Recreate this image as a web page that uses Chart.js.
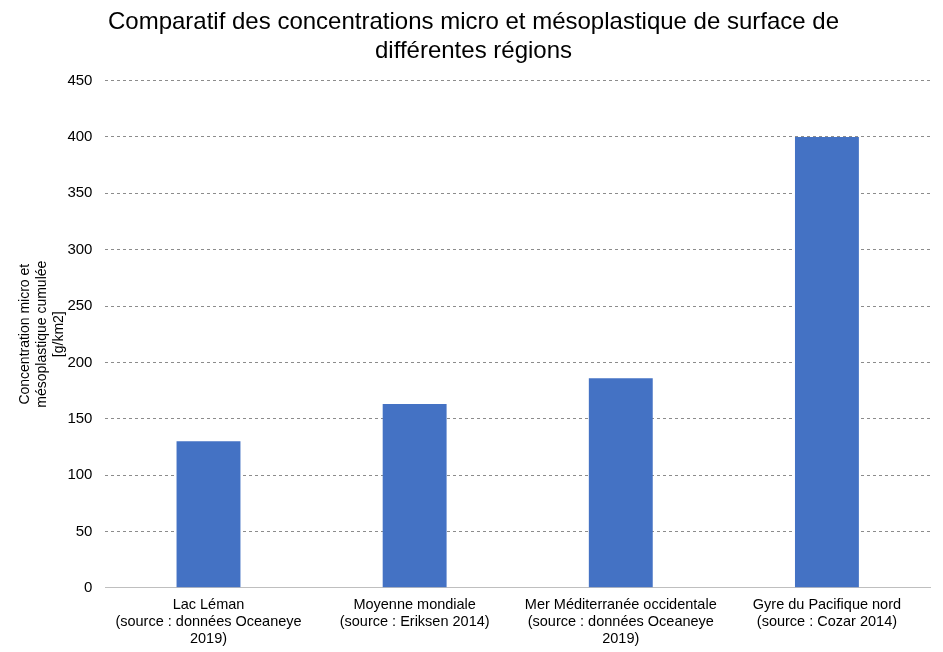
<!DOCTYPE html>
<html>
<head>
<meta charset="utf-8">
<script src="https://cdn.jsdelivr.net/npm/chart.js@4"></script>
<style>
  html, body { margin: 0; padding: 0; background: #fff; }
  #wrap { width: 943px; height: 652px; }
</style>
</head>
<body>
<div id="wrap"><canvas id="chart"></canvas></div>
<script>
var categories = [
    ["Lac Léman", "(source : données Oceaneye", "2019)"],
    ["Moyenne mondiale", "(source : Eriksen 2014)"],
    ["Mer Méditerranée occidentale", "(source : données Oceaneye", "2019)"],
    ["Gyre du Pacifique nord", "(source : Cozar 2014)"]
];
var concentrations = [130, 163, 186, 400];
var yTicks = [0, 50, 100, 150, 200, 250, 300, 350, 400, 450];

var ctx = document.getElementById('chart').getContext('2d');
new Chart(ctx, {
    type: 'bar',
    data: {
        labels: categories,
        datasets: [{
            data: concentrations,
            backgroundColor: '#4472C4',
            categoryPercentage: 1,
            barPercentage: 0.31
        }]
    },
    options: {
        responsive: true,
        maintainAspectRatio: false,
        animation: false,
        layout: { padding: { left: 17, right: 13, top: 8, bottom: 4 } },
        plugins: {
            legend: { display: false },
            tooltip: { enabled: false },
            title: {
                display: true,
                text: ['Comparatif des concentrations micro et mésoplastique de surface de', 'différentes régions'],
                color: '#000',
                font: { family: 'Liberation Sans, Arial', size: 24, weight: 'normal' },
                padding: { top: 0, bottom: 15 },
                lineHeight: 1.17
            }
        },
        scales: {
            x: {
                grid: { display: false },
                border: { display: true, color: '#bfbfbf' },
                ticks: {
                    color: '#000',
                    maxRotation: 0,
                    font: { family: 'Liberation Sans, Arial', size: 14.5 },
                    padding: 0
                }
            },
            y: {
                min: 0,
                max: 450,
                afterBuildTicks: function (axis) {
                    axis.ticks = yTicks.map(function (v) { return { value: v }; });
                },
                grid: {
                    color: '#8c8c8c',
                    lineWidth: 1,
                    drawTicks: false
                },
                border: { display: false, dash: [3, 3] },
                ticks: {
                    color: '#000',
                    padding: 13,
                    font: { family: 'Liberation Sans, Arial', size: 15 }
                },
                title: {
                    display: true,
                    text: ['Concentration micro et', 'mésoplastique cumulée', '[g/km2]'],
                    color: '#000',
                    font: { family: 'Liberation Sans, Arial', size: 14 },
                    padding: { top: 0, bottom: -13 },
                    lineHeight: 1.1
                }
            }
        }
    }
});
</script>
</body>
</html>
